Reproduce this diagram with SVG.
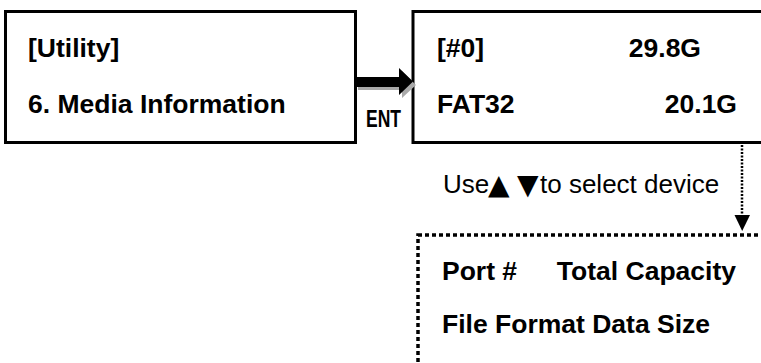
<svg xmlns="http://www.w3.org/2000/svg" width="761" height="363" viewBox="0 0 761 363">
<style>
.box{fill:#fff;stroke:#000;stroke-width:3}
.dbox{fill:none;stroke:#000;stroke-width:3.5;stroke-dasharray:4 3}
.b{font-family:"Liberation Sans",Arial,sans-serif;font-weight:bold;font-size:26.5px;fill:#000}
.r{font-family:"Liberation Sans",Arial,sans-serif;font-size:26px;fill:#000}
.tri{font-family:"DejaVu Sans",sans-serif;font-size:28px}
</style>
<rect width="761" height="363" fill="#fff"/>
<g id="menu">
<rect class="box" x="5.5" y="11.5" width="350" height="131"/>
<text class="b" x="28" y="57">[Utility]</text>
<text class="b" x="28" y="113">6. Media Information</text>
</g>
<g id="device">
<rect class="box" x="413" y="11.5" width="360" height="131"/>
<text class="b" x="437" y="57">[#0]</text>
<text class="b" x="701" y="57" text-anchor="end">29.8G</text>
<text class="b" x="437" y="113">FAT32</text>
<text class="b" x="737" y="113" text-anchor="end">20.1G</text>
</g>
<g id="legend">
<rect class="dbox" x="418" y="235" width="420" height="200"/>
<text class="b" x="442" y="280">Port #</text>
<text class="b" x="736" y="280" text-anchor="end">Total Capacity</text>
<text class="b" x="442" y="333">File Format Data Size</text>
</g>
<g id="connectors">
<polygon points="358,80 402,80 402,71 416,85 402,98 402,90 358,90" fill="#aaa"/>
<polygon points="357,77 399,77 399,68 413,81.5 399,95 399,87 357,87" fill="#000"/>
<text x="366" y="126.5" font-family="'Liberation Sans',Arial,sans-serif" font-weight="bold" font-size="24" textLength="35" lengthAdjust="spacingAndGlyphs">ENT</text>
<line x1="742" y1="145" x2="742" y2="216" stroke="#000" stroke-width="2.5" stroke-dasharray="2 1.5"/>
<polygon points="734.5,215 750,215 742.2,231" fill="#000"/>
<text class="r" x="443" y="193">Use<tspan class="tri" x="488" y="194">▲</tspan><tspan class="tri" x="517" y="194">▼</tspan><tspan x="540" y="193">to select device</tspan></text>
</g>
</svg>
